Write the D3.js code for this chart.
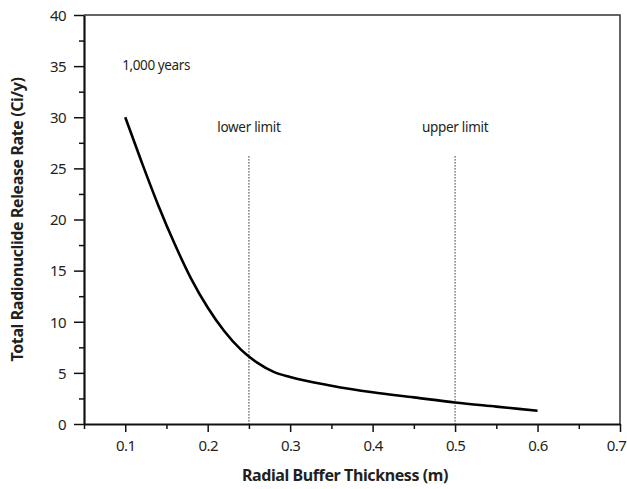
<!DOCTYPE html>
<html>
<head>
<meta charset="utf-8">
<script src="https://cdn.jsdelivr.net/npm/d3@7"></script>
<style>
  body { margin: 0; background: #fff; }
  text { font-family: "Noto Sans", "Open Sans", sans-serif; fill: #231f20; }
</style>
</head>
<body>
<script>
// values
var thickness = [0.10, 0.12, 0.14, 0.16, 0.18, 0.20, 0.22, 0.24, 0.25, 0.26, 0.28, 0.30, 0.35, 0.40, 0.45, 0.50, 0.55, 0.60];
var releaseRate = [30.0, 25.6, 21.4, 17.6, 14.2, 11.4, 9.1, 7.3, 6.6, 6.0, 5.1, 4.6, 3.75, 3.1, 2.6, 2.1, 1.7, 1.3];
var xTicks = [0.1, 0.2, 0.3, 0.4, 0.5, 0.6, 0.7];
var xMinor = [0.05, 0.15, 0.25, 0.35, 0.45, 0.55, 0.65];
var yTicks = [0, 5, 10, 15, 20, 25, 30, 35, 40];
var yMinor = [2.5, 7.5, 12.5, 17.5, 22.5, 27.5, 32.5, 37.5];
var limits = [{x: 0.25, label: "lower limit"}, {x: 0.5, label: "upper limit"}];

var W = 627, H = 489;
var m = {left: 84, right: 7, top: 15, bottom: 65};

var svg = d3.select("body").append("svg").attr("width", W).attr("height", H);

var x = d3.scaleLinear().domain([0.05, 0.7]).range([m.left, W - m.right]);
var y = d3.scaleLinear().domain([0, 40]).range([H - m.bottom, m.top]);

// frame top/right
svg.append("path")
   .attr("d", "M" + x(0.05) + "," + y(40) + "H" + x(0.7) + "V" + y(0))
   .attr("fill", "none").attr("stroke", "#333").attr("stroke-width", 1.5);

// minor ticks
svg.append("g").attr("transform", "translate(0," + y(0) + ")")
   .call(d3.axisBottom(x).tickValues(xMinor).tickSize(5).tickFormat(""))
   .call(g => g.select(".domain").remove())
   .selectAll("line").attr("stroke", "#111").attr("stroke-width", 1.5);
svg.append("g").attr("transform", "translate(" + x(0.05) + ",0)")
   .call(d3.axisLeft(y).tickValues(yMinor).tickSize(5).tickFormat(""))
   .call(g => g.select(".domain").remove())
   .selectAll("line").attr("stroke", "#111").attr("stroke-width", 1.5);

// major axes
var xAxis = svg.append("g").attr("transform", "translate(0," + y(0) + ")")
   .call(d3.axisBottom(x).tickValues(xTicks).tickSize(8).tickSizeOuter(0).tickPadding(8).tickFormat(d3.format(".1f")));
var yAxis = svg.append("g").attr("transform", "translate(" + x(0.05) + ",0)")
   .call(d3.axisLeft(y).tickValues(yTicks).tickSize(10).tickSizeOuter(0).tickPadding(8).tickFormat(d3.format("d")));

[xAxis, yAxis].forEach(function(a) {
  a.select(".domain").attr("stroke", "#111").attr("stroke-width", 2.2);
  a.selectAll(".tick line").attr("stroke", "#111").attr("stroke-width", 1.5);
  a.selectAll(".tick text").style("font-size", "15px").style("letter-spacing", "-0.6px").attr("fill", "#231f20");
});
yAxis.selectAll(".tick text").attr("dy", "0.35em");
// keep the last label inside the window
xAxis.selectAll(".tick text").filter(d => d === 0.7).attr("dx", -4);

// limit lines
svg.selectAll(".limit").data(limits).enter().append("line")
   .attr("x1", d => x(d.x)).attr("x2", d => x(d.x))
   .attr("y1", y(26.2)).attr("y2", y(0))
   .attr("stroke", "#333").attr("stroke-width", 1).attr("stroke-dasharray", "1.5,1.5");

svg.selectAll(".limitLabel").data(limits).enter().append("text")
   .attr("x", d => x(d.x)).attr("y", y(28.6))
   .attr("text-anchor", "middle")
   .style("font-size", "13.5px").style("letter-spacing", "-0.3px")
   .text(d => d.label);

svg.append("text").attr("x", x(0.1) - 3).attr("y", y(35) + 4)
   .style("font-size", "13.5px").style("letter-spacing", "-0.4px").text("1,000 years");

// curve
var line = d3.line()
   .x((d, i) => x(thickness[i]))
   .y(d => y(d))
   .curve(d3.curveMonotoneX);
svg.append("path").datum(releaseRate)
   .attr("d", line)
   .attr("fill", "none").attr("stroke", "#000").attr("stroke-width", 2.6);

// axis titles
svg.append("text").attr("x", 345).attr("y", 481)
   .attr("text-anchor", "middle")
   .style("font-size", "16px").style("font-weight", "bold").style("letter-spacing", "-0.4px")
   .text("Radial Buffer Thickness (m)");
svg.append("text")
   .attr("transform", "translate(23," + ((y(0) + y(40)) / 2) + ") rotate(-90)")
   .attr("text-anchor", "middle")
   .style("font-size", "16px").style("font-weight", "bold").style("letter-spacing", "-0.4px")
   .text("Total Radionuclide Release Rate (Ci/y)");
</script>
</body>
</html>
